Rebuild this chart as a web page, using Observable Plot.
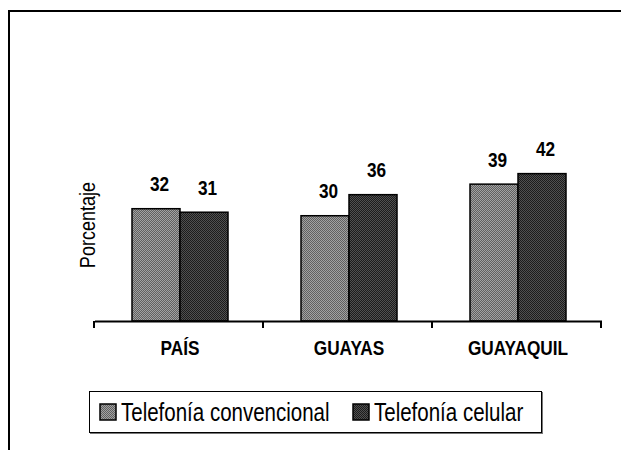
<!DOCTYPE html>
<html><head><meta charset="utf-8">
<script src="https://cdn.jsdelivr.net/npm/d3@7"></script>
<script src="https://cdn.jsdelivr.net/npm/@observablehq/plot@0.6"></script>
<style>
html,body{margin:0;padding:0;background:#fff;}
#wrap{position:relative;width:621px;height:450px;overflow:hidden;font-family:'Liberation Sans Narrow','Arial Narrow','Liberation Sans',Arial,sans-serif;}
#frame{position:absolute;left:8px;top:10px;width:640px;height:460px;border-left:2px solid #000;border-top:2px solid #000;}
#chart{position:absolute;left:0;top:0;}
#legend{position:absolute;left:89px;top:391px;width:451px;height:40px;border:1px solid #000;box-shadow:1px 1px 0 #777;background:#fff;font-size:25px;color:#000;}
.item{position:absolute;top:0;height:40px;display:flex;align-items:center;white-space:nowrap;}
.item svg{margin-right:4px;flex:none;}
.item span{display:inline-block;transform:scaleX(0.82);transform-origin:left center;}
</style></head>
<body><div id="wrap"><div id="frame"></div><div id="chart"></div><div id="legend"></div></div>
<script>
const categories = ["PAÍS", "GUAYAS", "GUAYAQUIL"];
const series = ["Telefonía convencional", "Telefonía celular"];
const convencional = [32, 30, 39];
const celular = [31, 36, 42];
const yLabel = "Porcentaje";
const patternIds = ["pat-conv", "pat-cel"];

const data = categories.flatMap((c, i) => [
  {category: c, series: series[0], value: convencional[i]},
  {category: c, series: series[1], value: celular[i]}
]);

const font = "'Liberation Sans Narrow','Arial Narrow','Liberation Sans',Arial,sans-serif";

const plot = Plot.plot({
  width: 621, height: 380,
  marginLeft: 94, marginRight: 19, marginTop: 128, marginBottom: 59,
  style: {fontFamily: font, fontSize: "21px", color: "#000", background: "transparent", overflow: "visible"},
  fx: {domain: categories, paddingInner: 0, paddingOuter: 0, label: null},
  x: {domain: series, paddingInner: 0, paddingOuter: 0.73, axis: null},
  y: {domain: [0, 55], label: yLabel},
  color: {domain: series, range: patternIds.map(id => `url(#${id})`)},
  marks: [
    Plot.axisY({ticks: [], tickSize: 0, label: yLabel, labelAnchor: "center", labelOffset: 16, labelArrow: "none", fontSize: 22}),
    Plot.axisFx({anchor: "bottom", tickSize: 0, tickPadding: 19, fontWeight: "bold", fontSize: 21, label: null}),
    Plot.barY(data, {fx: "category", x: "series", y: "value", fill: "series", stroke: "#000", strokeWidth: 1.5}),
    Plot.ruleY([0], {stroke: "#000", strokeWidth: 2}),
    Plot.text(data, {fx: "category", x: "series", y: "value", text: d => String(d.value), lineAnchor: "bottom", dy: -18, dx: 3, fontWeight: "bold", fontSize: 21})
  ]
});

const svgNode = plot.tagName.toLowerCase() === "svg" ? plot : plot.querySelector("svg");
const svg = d3.select(svgNode);

// pattern fills
const defs = svg.insert("defs", ":first-child");
function addPattern(id, bg, fg) {
  const p = defs.append("pattern").attr("id", id).attr("patternUnits", "userSpaceOnUse").attr("width", 2).attr("height", 2);
  p.append("rect").attr("width", 2).attr("height", 2).attr("fill", bg);
  p.append("rect").attr("x", 0).attr("y", 0).attr("width", 1).attr("height", 1).attr("fill", fg);
  p.append("rect").attr("x", 1).attr("y", 1).attr("width", 1).attr("height", 1).attr("fill", fg);
}
addPattern(patternIds[0], "#a2a2a2", "#606060");
addPattern(patternIds[1], "#1c1c1c", "#505050");

// category boundary ticks from fx scale
const fxs = plot.scale("fx");
const ys = plot.scale("y");
const y0 = ys.apply(0);
const x0 = fxs.range[0];
const step = fxs.step;
const tg = svg.append("g").attr("stroke", "#000").attr("stroke-width", 2);
for (let i = 0; i <= categories.length; i++) {
  const x = x0 + i * step;
  tg.append("line").attr("x1", x).attr("x2", x).attr("y1", y0).attr("y2", y0 + 7);
}

document.getElementById("chart").appendChild(plot);

// y label style
svg.selectAll("text").filter(function() { return this.textContent === yLabel; })
  .attr("font-size", 22).style("font-size", "22px").style("font-weight", "normal");

// condense text (narrow face)
svg.selectAll("text").each(function() {
  const l = this.getComputedTextLength();
  if (l > 0) {
    this.setAttribute("textLength", (l * 0.82).toFixed(2));
    this.setAttribute("lengthAdjust", "spacingAndGlyphs");
  }
});

// legend
const legend = d3.select("#legend");
const lefts = [9, 262];
series.forEach((s, i) => {
  const item = legend.append("div").attr("class", "item").style("left", lefts[i] + "px");
  const sw = item.append("svg").attr("width", 18).attr("height", 18);
  sw.append("rect").attr("x", 1).attr("y", 1).attr("width", 16).attr("height", 16)
    .attr("fill", `url(#${patternIds[i]})`).attr("stroke", "#000").attr("stroke-width", 1.5);
  item.append("span").text(s);
});
</script>
</body></html>
